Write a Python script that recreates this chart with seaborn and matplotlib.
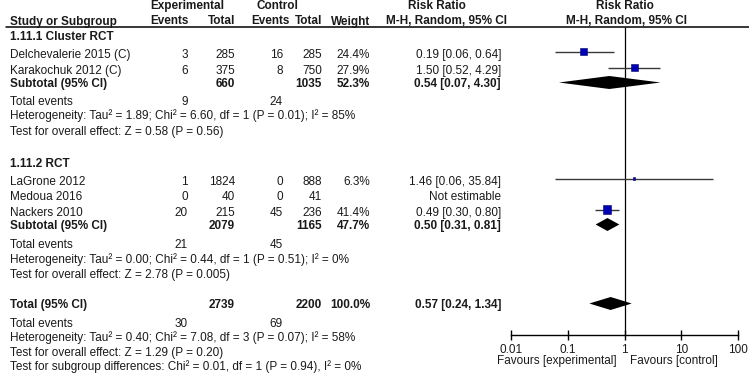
import numpy as np
import pandas as pd
import matplotlib
matplotlib.use("Agg")
import matplotlib.pyplot as plt
import seaborn as sns

# ---- data ----
studies = ["Delchevalerie 2015 (C)", "Karakochuk 2012 (C)", "LaGrone 2012", "Medoua 2016", "Nackers 2010"]
study_group = [0, 0, 1, 1, 1]
exp_events = [3, 6, 1, 0, 20]
exp_total = [285, 375, 1824, 40, 215]
ctl_events = [16, 8, 0, 0, 45]
ctl_total = [285, 750, 888, 41, 236]
weights = [24.4, 27.9, 6.3, np.nan, 41.4]
rr = [0.19, 1.50, 1.46, np.nan, 0.49]
rr_lo = [0.06, 0.52, 0.06, np.nan, 0.30]
rr_hi = [0.64, 4.29, 35.84, np.nan, 0.80]

groups = ["1.11.1 Cluster RCT", "1.11.2 RCT"]
grp_exp_total = [660, 2079]
grp_ctl_total = [1035, 1165]
grp_exp_events = [9, 21]
grp_ctl_events = [24, 45]
grp_weight = [52.3, 47.7]
grp_rr = [0.54, 0.50]
grp_lo = [0.07, 0.31]
grp_hi = [4.30, 0.81]
grp_het = ["Heterogeneity: Tau² = 1.89; Chi² = 6.60, df = 1 (P = 0.01); I² = 85%",
           "Heterogeneity: Tau² = 0.00; Chi² = 0.44, df = 1 (P = 0.51); I² = 0%"]
grp_z = ["Test for overall effect: Z = 0.58 (P = 0.56)",
         "Test for overall effect: Z = 2.78 (P = 0.005)"]

tot_exp_total, tot_ctl_total, tot_weight = 2739, 2200, 100.0
tot_exp_events, tot_ctl_events = 30, 69
tot_rr, tot_lo, tot_hi = 0.57, 0.24, 1.34
tot_het = "Heterogeneity: Tau² = 0.40; Chi² = 7.08, df = 3 (P = 0.07); I² = 58%"
tot_z = "Test for overall effect: Z = 1.29 (P = 0.20)"
tot_sub = "Test for subgroup differences: Chi² = 0.01, df = 1 (P = 0.94), I² = 0%"

axis_ticks = [0.01, 0.1, 1, 10, 100]
axis_labels = ["0.01", "0.1", "1", "10", "100"]

# ---- layout (pixel rows, y grows downward) ----
W, H = 749, 377
study_rows = [54, 70, 181, 196, 212]
group_title_rows = [36, 163]
subtotal_rows = [83, 225]
events_rows = [101, 244]
het_rows = [115, 259]
z_rows = [131, 274]
total_row, total_ev_row, total_het_row, total_z_row, total_sub_row = 304, 323, 337, 352, 366
mark_shift = -2.5
text_shift = 1.0

X_LEFT = 10
X_EXP_EV, X_EXP_TOT, X_CTL_EV, X_CTL_TOT, X_WT, X_RR = 188, 235, 283, 322, 370, 501

sns.set_theme(style="white")
plt.rcParams["font.family"] = ["Liberation Sans", "DejaVu Sans"]
FS = 8.5
TXT = "#1a1a1a"

fig = plt.figure(figsize=(W / 100, H / 100), dpi=100)
ax_t = fig.add_axes([0, 0, 1, 1])
ax_t.set_xlim(0, W)
ax_t.set_ylim(H, 0)
ax_t.axis("off")


def put(x, y, s, ha="left", bold=False):
    ax_t.text(x, y + text_shift, s, ha=ha, va="center", fontsize=FS, color=TXT,
              fontweight="bold" if bold else "normal")


# headers
put(187.5, 5, "Experimental", ha="center", bold=True)
put(277.5, 5, "Control", ha="center", bold=True)
put(X_LEFT, 20.5, "Study or Subgroup", bold=True)
put(189, 20.5, "Events", ha="right", bold=True)
put(X_EXP_TOT, 20.5, "Total", ha="right", bold=True)
put(290, 20.5, "Events", ha="right", bold=True)
put(X_CTL_TOT, 20.5, "Total", ha="right", bold=True)
put(X_WT, 20.5, "Weight", ha="right", bold=True)
put(437, 5, "Risk Ratio", ha="center", bold=True)
put(446, 20.5, "M-H, Random, 95% CI", ha="center", bold=True)
put(625, 5, "Risk Ratio", ha="center", bold=True)
put(627, 20.5, "M-H, Random, 95% CI", ha="center", bold=True)
ax_t.plot([6, W], [27, 27], color="black", lw=1.1)

# study rows
for i, name in enumerate(studies):
    y = study_rows[i]
    put(X_LEFT, y, name)
    put(X_EXP_EV, y, str(exp_events[i]), ha="right")
    put(X_EXP_TOT, y, str(exp_total[i]), ha="right")
    put(X_CTL_EV, y, str(ctl_events[i]), ha="right")
    put(X_CTL_TOT, y, str(ctl_total[i]), ha="right")
    if np.isnan(rr[i]):
        put(X_RR, y, "Not estimable", ha="right")
    else:
        put(X_WT, y, f"{weights[i]:.1f}%", ha="right")
        put(X_RR, y, f"{rr[i]:.2f} [{rr_lo[i]:.2f}, {rr_hi[i]:.2f}]", ha="right")

# subgroup blocks
for g, gname in enumerate(groups):
    put(X_LEFT, group_title_rows[g], gname, bold=True)
    y = subtotal_rows[g]
    put(X_LEFT, y, "Subtotal (95% CI)", bold=True)
    put(X_EXP_TOT, y, str(grp_exp_total[g]), ha="right", bold=True)
    put(X_CTL_TOT, y, str(grp_ctl_total[g]), ha="right", bold=True)
    put(X_WT, y, f"{grp_weight[g]:.1f}%", ha="right", bold=True)
    put(X_RR, y, f"{grp_rr[g]:.2f} [{grp_lo[g]:.2f}, {grp_hi[g]:.2f}]", ha="right", bold=True)
    put(X_LEFT, events_rows[g], "Total events")
    put(X_EXP_EV, events_rows[g], str(grp_exp_events[g]), ha="right")
    put(X_CTL_EV, events_rows[g], str(grp_ctl_events[g]), ha="right")
    put(X_LEFT, het_rows[g], grp_het[g])
    put(X_LEFT, z_rows[g], grp_z[g])

# overall
put(X_LEFT, total_row, "Total (95% CI)", bold=True)
put(X_EXP_TOT, total_row, str(tot_exp_total), ha="right", bold=True)
put(X_CTL_TOT, total_row, str(tot_ctl_total), ha="right", bold=True)
put(X_WT, total_row, f"{tot_weight:.1f}%", ha="right", bold=True)
put(X_RR, total_row, f"{tot_rr:.2f} [{tot_lo:.2f}, {tot_hi:.2f}]", ha="right", bold=True)
put(X_LEFT, total_ev_row, "Total events")
put(X_EXP_EV, total_ev_row, str(tot_exp_events), ha="right")
put(X_CTL_EV, total_ev_row, str(tot_ctl_events), ha="right")
put(X_LEFT, total_het_row, tot_het)
put(X_LEFT, total_z_row, tot_z)
put(X_LEFT, total_sub_row, tot_sub)

# ---- forest panel ----
x0_px, x1_px, axis_y = 511, 738, 335
ax = fig.add_axes([x0_px / W, 0, (x1_px - x0_px) / W, 1])
ax.set_xscale("log")
ax.set_xlim(0.01, 100)
ax.set_ylim(H, 0)
ax.patch.set_alpha(0)
for side in ["top", "left", "right"]:
    ax.spines[side].set_visible(False)
ax.spines["bottom"].set_position(("data", axis_y))
ax.spines["bottom"].set_color("black")
ax.spines["bottom"].set_linewidth(1.0)
ax.set_xticks(axis_ticks, axis_labels)
ax.minorticks_off()
ax.tick_params(axis="x", direction="inout", length=6.5, width=1.0, color="black",
               pad=3.0, labelsize=FS, labelcolor=TXT, bottom=True)
ax.set_yticks([])
ax.grid(False)

ax.vlines(1, 27, axis_y, color="black", lw=0.9)

df = pd.DataFrame({"rr": rr, "lo": rr_lo, "hi": rr_hi, "weight": weights,
                   "row": np.array(study_rows) + mark_shift}).dropna()
ax.hlines(df["row"], df["lo"], df["hi"], color="#3a3a3a", lw=1.0, zorder=2)
sns.scatterplot(data=df, x="rr", y="row", size="weight", sizes=(2.1, 36),
                size_norm=(6.3, 41.4), marker="s", color="#0000b4",
                edgecolor="#00006e", linewidth=0.4, legend=False, ax=ax, zorder=3)

dh = 6.5
for y, est, lo, hi in zip(subtotal_rows + [total_row], grp_rr + [tot_rr],
                          grp_lo + [tot_lo], grp_hi + [tot_hi]):
    y = y - 0.5
    ax.fill([lo, est, hi, est], [y, y - dh, y, y + dh], color="black", lw=0, zorder=3)

ax.set_xlabel("")
ax.set_ylabel("")
ax_t.text(617, 361, "Favours [experimental]", ha="right", va="center", fontsize=FS, color=TXT)
ax_t.text(630, 361, "Favours [control]", ha="left", va="center", fontsize=FS, color=TXT)

fig.savefig("out.png", dpi=100)
